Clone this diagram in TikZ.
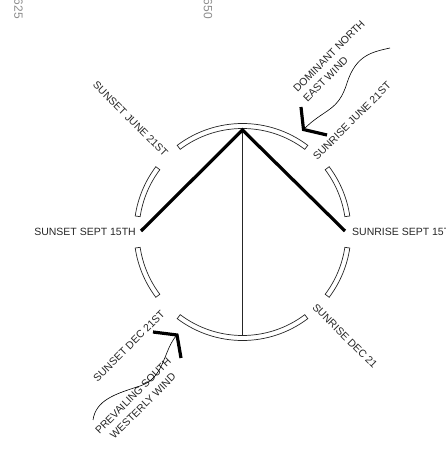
\documentclass[tikz,border=0pt]{standalone}
\usepackage{fontspec}
\setmainfont{Liberation Sans}
\begin{document}
\begin{tikzpicture}[x=1pt,y=1pt,
  lbl/.style={font=\fontsize{10.5}{14}\selectfont, text=black!85, inner sep=0pt},
  gridnum/.style={font=\fontsize{12}{14}\selectfont, text=black!45, rotate=-90, inner sep=0pt},
  strip/.style={draw=black!85, line width=0.7pt, fill=white},
  sunline/.style={line width=3.2pt, black, line join=miter},
  windmark/.style={line width=3.2pt, black, line join=miter, miter limit=10},
  windline/.style={line width=0.6pt, black},
  axisline/.style={line width=0.8pt, black!85}]
\useasboundingbox (0,0) rectangle (446,451);
\coordinate (C) at (242.5,219);
\def\Ro{108.5}
\def\Ri{103.5}
\foreach \a/\b in {53/127, 143/171.5, 188.5/217, 233/307, 323/351.5, 8.5/37}
  \draw[strip] ([shift={(\a:\Ro)}]C) arc[start angle=\a, end angle=\b, radius=\Ro]
     -- ([shift={(\b:\Ri)}]C) arc[start angle=\b, end angle=\a, radius=\Ri] -- cycle;
% sun lines
\coordinate (A) at (242.5,321);
\coordinate (L) at (141,220);
\coordinate (R) at (345,220);
\coordinate (B) at (242.5,116);
\draw[axisline] (A) -- (B);
\draw[sunline] (L) -- (A) -- (R);
% labels
\node[lbl, rotate=-45] (ssj) at (130.5,332) {SUNSET JUNE 21ST};
\node[lbl, rotate=45] (srj) at (352,330) {SUNRISE JUNE 21ST};
\node[lbl, anchor=east] (sss) at (136,219) {SUNSET SEPT 15TH};
\node[lbl, anchor=west] (srs) at (352,219) {SUNRISE SEPT 15TH};
\node[lbl, rotate=45] (ssd) at (129,105) {SUNSET DEC 21ST};
\node[lbl, rotate=-45] (srd) at (345,115) {SUNRISE DEC 21};
\node[lbl, rotate=45, align=left] (ne) at (334,390) {DOMINANT NORTH\\EAST WIND};
\node[lbl, rotate=45, align=center] (sw) at (138,50) {PREVAILING SOUTH\\WESTERLY WIND};
\node[gridnum] (n625) at (18.5,442) {625};
\node[gridnum] (n650) at (208,442) {650};
% north east wind
\coordinate (nea) at (301,344);
\coordinate (nev) at (303.5,321.5);
\coordinate (neb) at (327,316);
\coordinate (new) at (390,403);
\draw[windmark] (nea) -- (nev) -- (neb);
\draw[windline] (nev) .. controls (325,343) and (338,339) .. (347,368)
  .. controls (356,396) and (372,399) .. (new);
% south west wind
\coordinate (swa) at (153,119);
\coordinate (swv) at (177,116);
\coordinate (swb) at (181,93);
\coordinate (swe) at (93,31);
\draw[windmark] (swa) -- (swv) -- (swb);
\draw[windline] (swv) .. controls (163,101) and (165,73) .. (140,65)
  .. controls (115,57) and (96,51) .. (swe);
\end{tikzpicture}
\end{document}
